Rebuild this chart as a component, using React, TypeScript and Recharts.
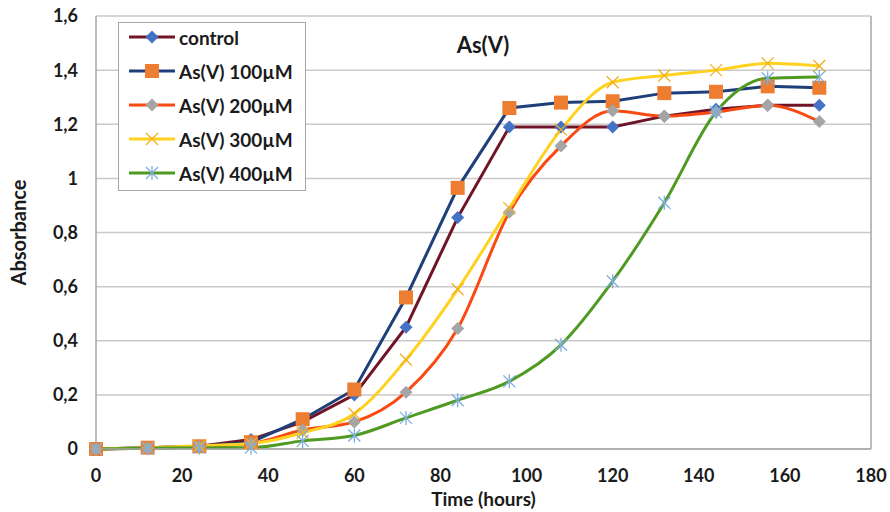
import { LineChart, Line, XAxis, YAxis, CartesianGrid, ReferenceLine } from 'recharts';

const hours = [0, 12, 24, 36, 48, 60, 72, 84, 96, 108, 120, 132, 144, 156, 168];
const control = [0, 0.005, 0.01, 0.035, 0.1, 0.2, 0.45, 0.855, 1.19, 1.19, 1.19, 1.23, 1.255, 1.27, 1.27];
const as100 = [0, 0.005, 0.01, 0.025, 0.11, 0.22, 0.56, 0.965, 1.26, 1.28, 1.285, 1.315, 1.32, 1.34, 1.335];
const as200 = [0, 0.003, 0.008, 0.02, 0.07, 0.1, 0.21, 0.445, 0.875, 1.12, 1.25, 1.23, 1.245, 1.27, 1.21];
const as300 = [0, 0.005, 0.012, 0.02, 0.06, 0.13, 0.33, 0.59, 0.89, 1.18, 1.355, 1.38, 1.4, 1.425, 1.415];
const as400 = [0, 0.003, 0.005, 0.005, 0.03, 0.05, 0.115, 0.18, 0.25, 0.385, 0.62, 0.91, 1.245, 1.37, 1.375];

const xTicks = [0, 20, 40, 60, 80, 100, 120, 140, 160, 180];
const yTicks = [0, 0.2, 0.4, 0.6, 0.8, 1, 1.2, 1.4, 1.6];

type Shape = 'diamond' | 'square' | 'x' | 'star';

const SERIES: { key: string; name: string; line: string; marker: string; shape: Shape; smooth: boolean }[] = [
  { key: 'control', name: 'control', line: '#701427', marker: '#4472C4', shape: 'diamond', smooth: false },
  { key: 'as100', name: 'As(V) 100µM', line: '#1F3F7A', marker: '#ED7D31', shape: 'square', smooth: false },
  { key: 'as200', name: 'As(V) 200µM', line: '#FA4A14', marker: '#A5A5A5', shape: 'diamond', smooth: true },
  { key: 'as300', name: 'As(V) 300µM', line: '#FFD21F', marker: '#F0B020', shape: 'x', smooth: true },
  { key: 'as400', name: 'As(V) 400µM', line: '#4F9A22', marker: '#7FAEDD', shape: 'star', smooth: true }
];

const data = hours.map((h, i) => ({
  hours: h,
  control: control[i],
  as100: as100[i],
  as200: as200[i],
  as300: as300[i],
  as400: as400[i]
}));

const FONT = 'Lato, "Open Sans", sans-serif';
const TEXT = '#1a1a1a';

const Marker = ({ cx, cy, shape, color }: { cx: number; cy: number; shape: Shape; color: string }) => {
  if (shape === 'square') {
    return <rect x={cx - 7} y={cy - 7} width={14} height={14} fill={color} />;
  }
  if (shape === 'diamond') {
    return <path d={`M${cx},${cy - 6.5} L${cx + 6.5},${cy} L${cx},${cy + 6.5} L${cx - 6.5},${cy} Z`} fill={color} />;
  }
  if (shape === 'x') {
    return (
      <path d={`M${cx - 6},${cy - 6} L${cx + 6},${cy + 6} M${cx - 6},${cy + 6} L${cx + 6},${cy - 6}`} stroke={color} strokeWidth={1.3} />
    );
  }
  return (
    <path
      d={`M${cx - 6},${cy - 6} L${cx + 6},${cy + 6} M${cx - 6},${cy + 6} L${cx + 6},${cy - 6} M${cx},${cy - 7} L${cx},${cy + 7}`}
      stroke={color}
      strokeWidth={1.3}
    />
  );
};

// legend drawn as a plain box over the plot, like the Excel original
const LegendBox = () => (
  <div
    style={{
      position: 'absolute',
      left: 118,
      top: 22,
      border: '1.5px solid #A6A6A6',
      background: '#fff',
      width: 188,
      height: 169,
      boxSizing: 'border-box'
    }}
  >
    <div style={{ marginTop: -3 }}>
      {SERIES.map((s) => (
        <div key={s.key} style={{ display: 'flex', alignItems: 'center', height: 34 }}>
          <svg width={50} height={20} style={{ marginLeft: 8 }}>
            <line x1={2} y1={10} x2={48} y2={10} stroke={s.line} strokeWidth={3} />
            <Marker cx={25} cy={10} shape={s.shape} color={s.marker} />
          </svg>
          <span style={{ fontFamily: FONT, fontWeight: 700, fontSize: 19, color: TEXT, marginLeft: 2 }}>{s.name}</span>
        </div>
      ))}
    </div>
  </div>
);

export default function App() {
  return (
    <div style={{ position: 'absolute', left: 0, top: 0, width: 890, height: 512, background: '#fff' }}>
      <LineChart width={890} height={512} data={data} margin={{ top: 16, right: 19, left: 0, bottom: 0 }}>
        <CartesianGrid horizontal vertical={false} stroke="#C9C9C9" strokeWidth={1.5} />
        <XAxis
          dataKey="hours"
          type="number"
          domain={[0, 180]}
          ticks={xTicks}
          height={63}
          tickLine={false}
          tickMargin={14}
          stroke="#A6A6A6"
          strokeWidth={1.5}
          tick={{ fontFamily: FONT, fontWeight: 700, fontSize: 18, fill: TEXT }}
          label={{ value: 'Time (hours)', position: 'insideBottom', offset: 6, style: { fontFamily: FONT, fontWeight: 700, fontSize: 19, fill: TEXT } }}
        />
        <YAxis
          domain={[0, 1.6]}
          ticks={yTicks}
          width={96}
          tickLine={false}
          tickMargin={12}
          stroke="#A6A6A6"
          strokeWidth={1.5}
          tickFormatter={(v: number) => String(Math.round(v * 10) / 10).replace('.', ',')}
          tick={{ fontFamily: FONT, fontWeight: 700, fontSize: 18, fill: TEXT }}
          label={{ value: 'Absorbance', angle: -90, position: 'insideLeft', offset: 19, style: { fontFamily: FONT, fontWeight: 700, fontSize: 20, fill: TEXT, textAnchor: 'middle' } }}
        />
        <ReferenceLine x={180} stroke="#A6A6A6" strokeWidth={1.5} />
        {SERIES.map((s) => (
          <Line
            key={s.key}
            dataKey={s.key}
            name={s.name}
            type={s.smooth ? 'monotone' : 'linear'}
            stroke={s.line}
            strokeWidth={3}
            isAnimationActive={false}
            dot={(p: any) => (
              <g key={`${s.key}-${p.index}`}>
                <Marker cx={p.cx} cy={p.cy} shape={s.shape} color={s.marker} />
              </g>
            )}
            activeDot={false}
          />
        ))}
        <text x={483} y={53} textAnchor="middle" fontFamily={FONT} fontWeight={700} fontSize={22} fill={TEXT}>
          As(V)
        </text>
      </LineChart>
      <LegendBox />
    </div>
  );
}
